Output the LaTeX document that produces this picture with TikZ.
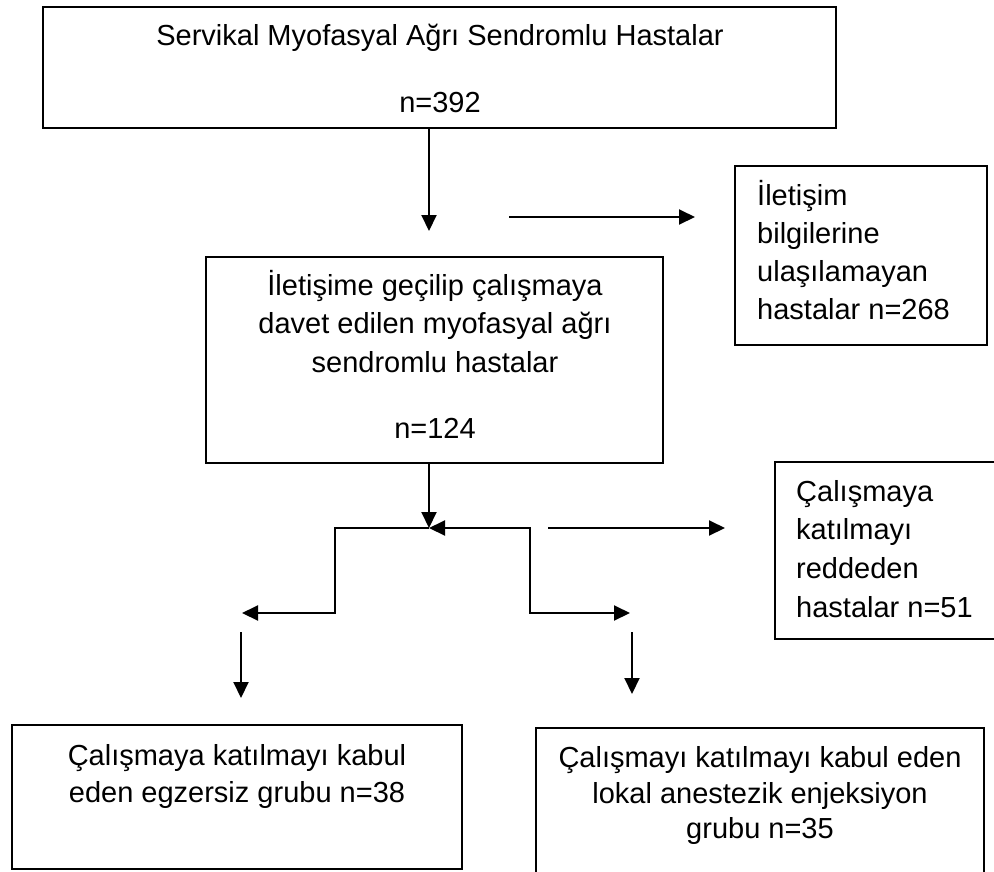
\documentclass[tikz,border=0pt]{standalone}
\usepackage{fontspec}
\setmainfont{Liberation Sans}
\usetikzlibrary{arrows.meta}
\begin{document}
\begin{tikzpicture}[x=1pt,y=-1pt,
  box/.style={draw, line width=1.8pt, inner sep=0pt, outer sep=0pt},
  txt/.style={anchor=base, inner sep=0pt, font=\fontsize{29}{38}\selectfont},
  ltxt/.style={anchor=base west, inner sep=0pt, font=\fontsize{29}{38}\selectfont},
  tip/.style={Triangle[length=16pt,width=15pt]},
  arr/.style={line width=2pt, -{Triangle[length=16pt,width=15pt]}},
  darr/.style={line width=2pt, {Triangle[length=16pt,width=15pt]}-{Triangle[length=16pt,width=15pt]}}]
\useasboundingbox (0,0) rectangle (994,871);
\fill[white] (0,0) rectangle (994,871);

% boxes
\node[box, minimum width=793pt, minimum height=121pt] (top) at (439.5,67.5) {};
\node[box, minimum width=457pt, minimum height=206pt] (mid) at (434.5,360) {};
\node[box, minimum width=252pt, minimum height=179pt] (r1) at (861,255.5) {};
\node[box, minimum width=230pt, minimum height=177pt] (r2) at (890,550.5) {};
\node[box, minimum width=450pt, minimum height=144pt] (bl) at (237,797) {};
\node[box, minimum width=448pt, minimum height=162pt] (br) at (760,809) {};

% texts
\node[txt] (t1) at (440,45) {Servikal Myofasyal Ağrı Sendromlu Hastalar};
\node[txt] (t2) at (440,112) {n=392};

\node[txt] (m1) at (435,295) {İletişime geçilip çalışmaya};
\node[txt] (m2) at (435,333) {davet edilen myofasyal ağrı};
\node[txt] (m3) at (435,372) {sendromlu hastalar};
\node[txt] (m4) at (435,438) {n=124};

\node[ltxt] (a1) at (757,205) {İletişim};
\node[ltxt] (a2) at (757,243) {bilgilerine};
\node[ltxt] (a3) at (757,281) {ulaşılamayan};
\node[ltxt] (a4) at (757,319) {hastalar n=268};

\node[ltxt] (b1) at (796,501) {Çalışmaya};
\node[ltxt] (b2) at (796,539) {katılmayı};
\node[ltxt] (b3) at (796,578) {reddeden};
\node[ltxt] (b4) at (796,617) {hastalar n=51};

\node[txt] (c1) at (237,765) {Çalışmaya katılmayı kabul};
\node[txt] (c2) at (237,802) {eden egzersiz grubu n=38};

\node[txt] (d1) at (760,767) {Çalışmayı katılmayı kabul eden};
\node[txt] (d2) at (760,803) {lokal anestezik enjeksiyon};
\node[txt] (d3) at (760,838) {grubu n=35};

% connector points
\coordinate (j1) at (429,231);
\coordinate (h1s) at (509,217);
\coordinate (h1e) at (695,217);
\coordinate (j2) at (429,528);
\coordinate (lb1) at (335,528);
\coordinate (lb2) at (335,613);
\coordinate (lt) at (242,613);
\coordinate (rb1) at (530,528);
\coordinate (rb2) at (530,613);
\coordinate (rt) at (630,613);
\coordinate (h2s) at (548,528);
\coordinate (h2e) at (725,528);
\coordinate (dl1) at (241,632);
\coordinate (dl2) at (241,698);
\coordinate (dr1) at (632,632);
\coordinate (dr2) at (632,694);

% connectors
\draw[arr] (top.south -| j1) -- (j1);
\draw[arr] (h1s) -- (h1e);
\draw[arr] (mid.south -| j2) -- (j2);
\draw[arr] (j2) -- (lb1) -- (lb2) -- (lt);
\draw[darr] (j2) -- (rb1) -- (rb2) -- (rt);
\draw[arr] (h2s) -- (h2e);
\draw[arr] (dl1) -- (dl2);
\draw[arr] (dr1) -- (dr2);
\end{tikzpicture}
\end{document}
